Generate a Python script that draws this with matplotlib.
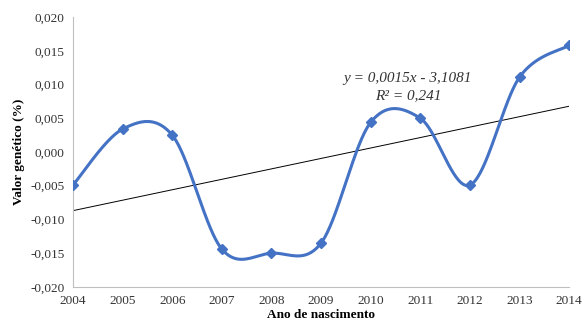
import numpy as np
import matplotlib.pyplot as plt
from matplotlib.ticker import FuncFormatter

plt.rcParams['font.family'] = ['Liberation Serif', 'DejaVu Serif']

anos = [2004, 2005, 2006, 2007, 2008, 2009, 2010, 2011, 2012, 2013, 2014]
valor = [-0.0049, 0.0034, 0.0025, -0.0144, -0.0150, -0.0135, 0.0044, 0.0050, -0.0049, 0.0111, 0.0158]
yticks = [-0.020, -0.015, -0.010, -0.005, 0.000, 0.005, 0.010, 0.015, 0.020]


def suaviza(x, y, n=40):
    # curva suavizada estilo Excel (Bezier com pontos de controle Catmull-Rom)
    x = np.asarray(x, float)
    y = np.asarray(y, float)
    px = np.concatenate([[x[0]], x, [x[-1]]])
    py = np.concatenate([[y[0]], y, [y[-1]]])
    xs, ys = [], []
    t = np.linspace(0, 1, n)
    for i in range(1, len(px) - 2):
        p0 = np.array([px[i], py[i]])
        p3 = np.array([px[i + 1], py[i + 1]])
        c1 = p0 + (np.array([px[i + 1], py[i + 1]]) - np.array([px[i - 1], py[i - 1]])) / 6
        c2 = p3 - (np.array([px[i + 2], py[i + 2]]) - np.array([px[i], py[i]])) / 6
        b = ((1 - t) ** 3)[:, None] * p0 + (3 * (1 - t) ** 2 * t)[:, None] * c1 \
            + (3 * (1 - t) * t ** 2)[:, None] * c2 + (t ** 3)[:, None] * p3
        xs.extend(b[:, 0])
        ys.extend(b[:, 1])
    return np.array(xs), np.array(ys)


fig = plt.figure(figsize=(5.82, 3.29), dpi=100)
ax = fig.add_axes([0.1254, 0.128, 0.8526, 0.82])

sx, sy = suaviza(anos, valor)
ax.plot(sx, sy, color='#4472C4', lw=2.2, zorder=3)
ax.plot(anos, valor, ls='none', marker='D', ms=5.5, color='#4472C4', zorder=4)

# linha de tendência linear
coef = np.polyfit(anos, valor, 1)
ax.plot([anos[0], anos[-1]], np.polyval(coef, [anos[0], anos[-1]]), color='black', lw=0.7, zorder=2)

ax.text(2010.75, 0.0096, 'y = 0,0015x - 3,1081\nR² = 0,241', ha='center', va='center',
        fontsize=11, style='italic', color='#333333', linespacing=1.45)

ax.set_xlim(2004, 2014)
ax.set_ylim(-0.020, 0.020)
ax.set_xticks(anos)
ax.set_yticks(yticks)
ax.yaxis.set_major_formatter(FuncFormatter(lambda v, p: ('%.3f' % v).replace('.', ',').replace('-0,000', '0,000')))
ax.tick_params(length=0, labelsize=9.5, colors='#333333', pad=6)
for s in ['top', 'right']:
    ax.spines[s].set_visible(False)
for s in ['left', 'bottom']:
    ax.spines[s].set_color('#BFBFBF')
    ax.spines[s].set_linewidth(0.8)

ax.set_xlabel('Ano de nascimento', fontsize=9.5, fontweight='bold', labelpad=1)
ax.set_ylabel('Valor genético (%)', fontsize=9.5, fontweight='bold', labelpad=4)

fig.savefig('out.png', dpi=100)
